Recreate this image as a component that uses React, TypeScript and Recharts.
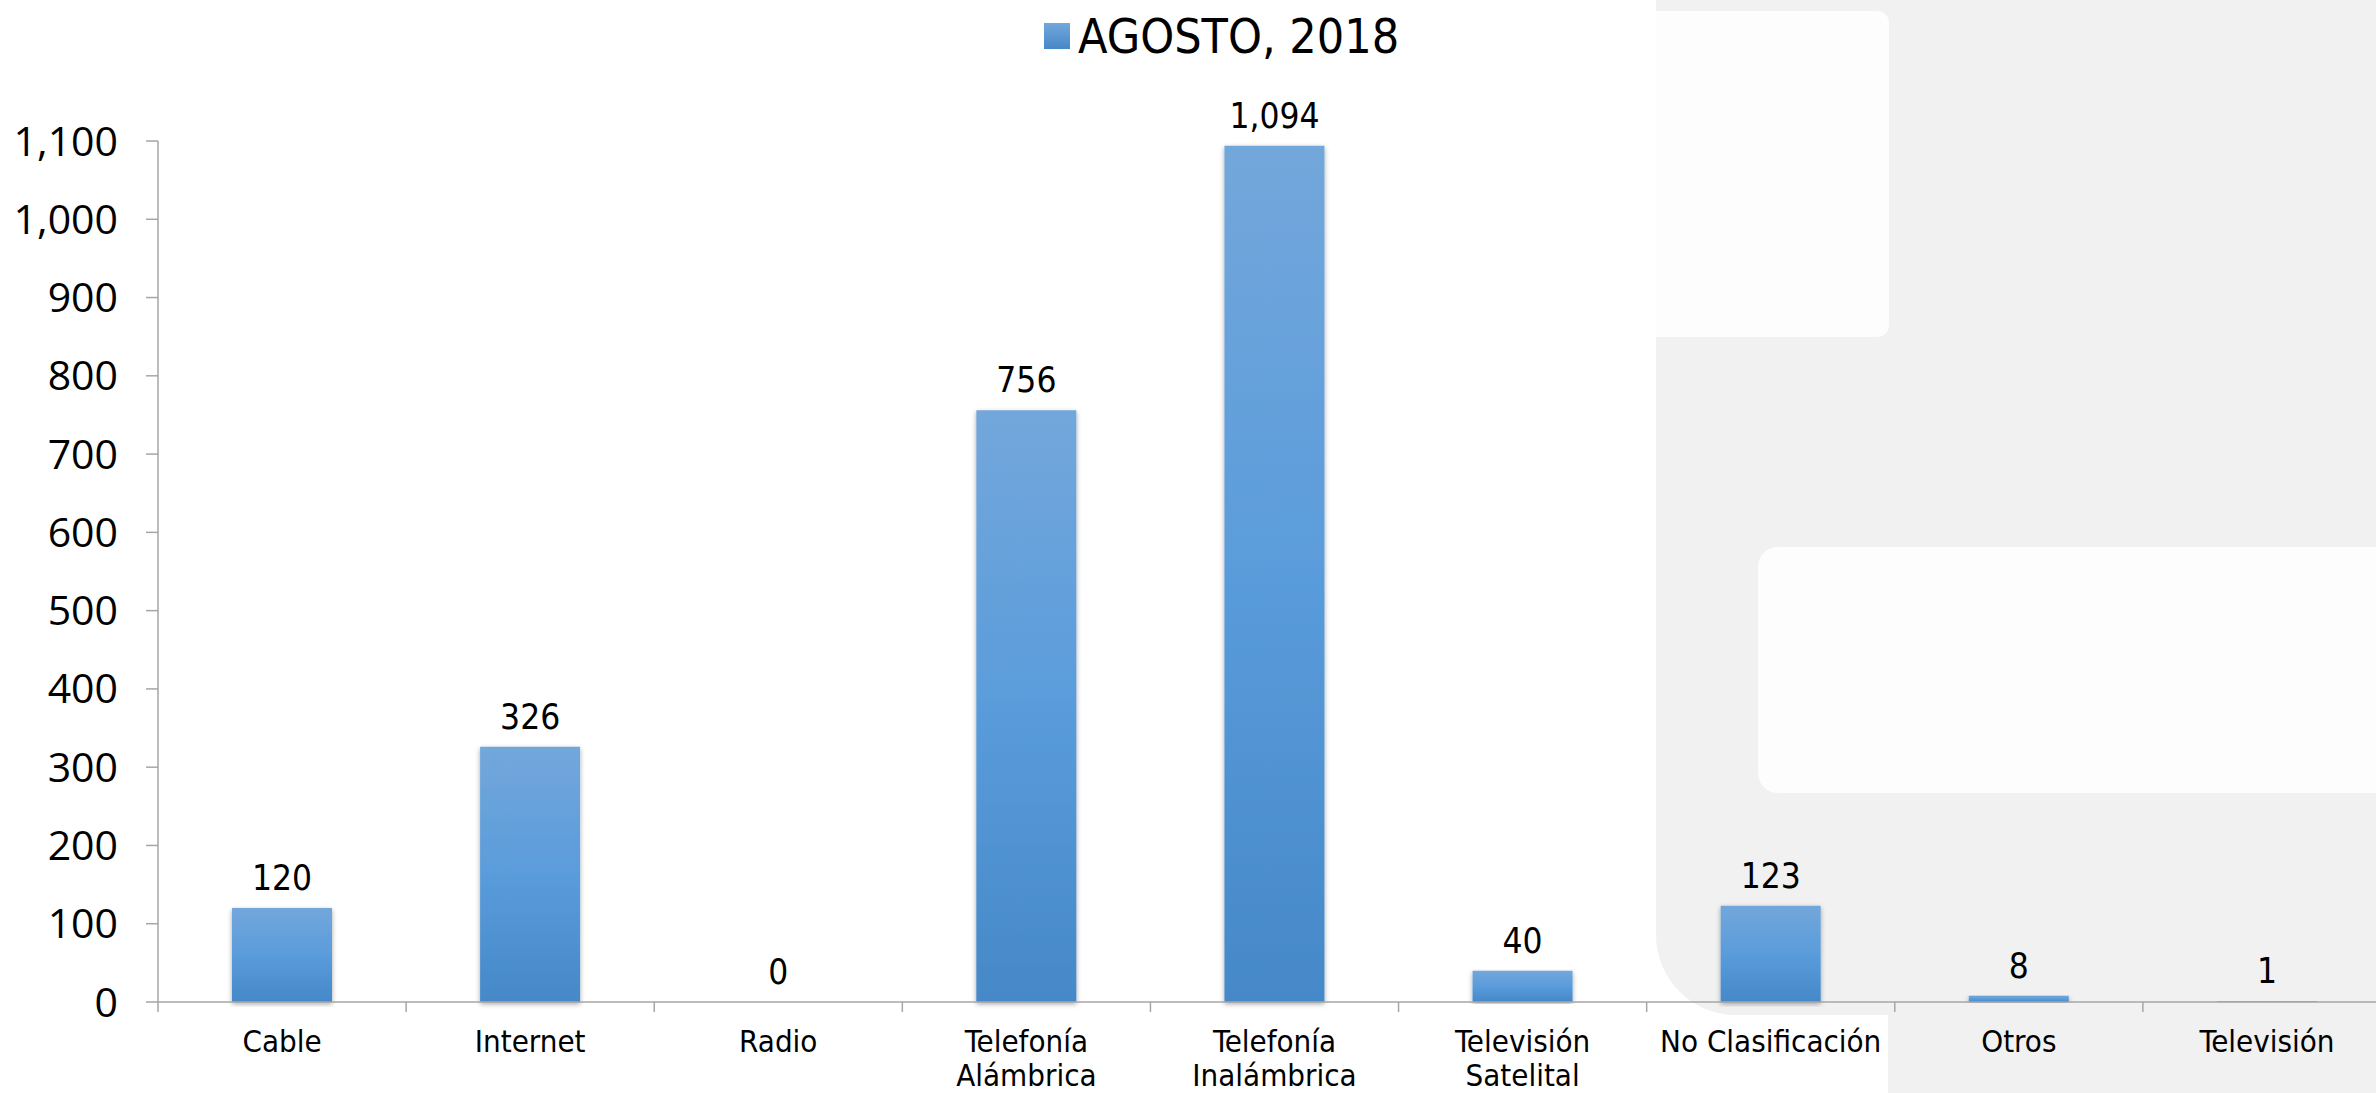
import { Bar, ComposedChart, LabelList, Line, XAxis, YAxis } from "recharts"

const categories = [
  "Cable",
  "Internet",
  "Radio",
  "Telefonía\nAlámbrica",
  "Telefonía\nInalámbrica",
  "Televisión\nSatelital",
  "No Clasificación",
  "Otros",
  "Televisión",
]
const values = [120, 326, 0, 756, 1094, 40, 123, 8, 1]
const yTicks = [0, 100, 200, 300, 400, 500, 600, 700, 800, 900, 1000, 1100]
const seriesName = "AGOSTO, 2018"

const data = categories.map((name, i) => ({ name, value: values[i] }))

const CHART_W = 2400
const CHART_H = 1093
const Y_AXIS_W = 158
const RIGHT = 9
const BAND = (CHART_W - Y_AXIS_W - RIGHT) / categories.length
const AXIS = "#a6a6a6"
const narrow = "'Liberation Sans Narrow', 'DejaVu Sans Condensed', sans-serif"

function CategoryTick(props: any) {
  const { x, y, payload } = props
  const lines = String(payload.value).split("\n")
  const bx = x - BAND / 2
  return (
    <g>
      <line x1={bx} y1={y - 10} x2={bx} y2={y} stroke={AXIS} strokeWidth={1.5} />
      <text x={x} y={y + 40} textAnchor="middle" fontFamily={narrow} fontSize={31} fill="#000">
        {lines.map((l, i) => (
          <tspan key={i} x={x} dy={i === 0 ? 0 : 34}>
            {l}
          </tspan>
        ))}
      </text>
    </g>
  )
}

function Backdrop() {
  const gray = "#f0f1f0"
  return (
    <>
      <div style={{ position: "absolute", left: 1656, top: 0, width: 720, height: 1015, background: gray, borderBottomLeftRadius: 80 }} />
      <div style={{ position: "absolute", left: 1888, top: 1000, width: 488, height: 93, background: gray }} />
      <div style={{ position: "absolute", left: 1656, top: 11, width: 233, height: 326, background: "#fdfdfd", borderTopRightRadius: 12, borderBottomRightRadius: 12 }} />
      <div style={{ position: "absolute", left: 1758, top: 547, width: 640, height: 246, background: "#fdfdfd", borderRadius: 20 }} />
    </>
  )
}

export default function App() {
  return (
    <div style={{ position: "absolute", left: 0, top: 0, width: 2376, height: 1093, overflow: "hidden", background: "#fff" }}>
      <Backdrop />
      <div style={{ position: "absolute", left: 1044, top: 8, display: "flex", alignItems: "center", fontFamily: narrow, fontSize: 48, color: "#000" }}>
        <span style={{ display: "inline-block", width: 26, height: 26, background: "linear-gradient(#73a7db, #4588c8)", marginRight: 8 }} />
        {seriesName}
      </div>
      <div style={{ position: "absolute", left: 0, top: 0 }}>
        <ComposedChart width={CHART_W} height={CHART_H} data={data} margin={{ top: 141, right: RIGHT, bottom: 0, left: 0 }}>
          <defs>
            <linearGradient id="barGrad" x1="0" y1="0" x2="0" y2="1">
              <stop offset="0%" stopColor="#73a7db" />
              <stop offset="50%" stopColor="#5a9cdb" />
              <stop offset="100%" stopColor="#4588c8" />
            </linearGradient>
            <filter id="barShadow" x="-20%" y="-5%" width="140%" height="110%">
              <feDropShadow dx="0" dy="2" stdDeviation="2.5" floodColor="#000" floodOpacity="0.35" />
            </filter>
          </defs>
          <XAxis
            dataKey="name"
            height={91}
            interval={0}
            tickLine={false}
            tickSize={10}
            tickMargin={0}
            axisLine={{ stroke: AXIS, strokeWidth: 1.5 }}
            tick={<CategoryTick />}
          />
          <YAxis
            width={Y_AXIS_W}
            domain={[0, 1100]}
            ticks={yTicks}
            interval={0}
            tickSize={12}
            tickMargin={28}
            tickLine={{ stroke: AXIS, strokeWidth: 1.5 }}
            axisLine={{ stroke: AXIS, strokeWidth: 1.5 }}
            tick={{ fontFamily: "'Open Sans', sans-serif", fontSize: 41, fill: "#000" }}
            tickFormatter={(v) => Number(v).toLocaleString("en-US")}
          />
          <Bar dataKey="value" barSize={100} fill="url(#barGrad)" filter="url(#barShadow)" isAnimationActive={false} />
          {/* invisible line carries the value labels so the zero bar still gets one */}
          <Line dataKey="value" stroke="none" dot={false} activeDot={false} legendType="none" isAnimationActive={false}>
            <LabelList
              dataKey="value"
              position="top"
              offset={18}
              fontFamily={narrow}
              fontSize={35}
              fill="#000"
              formatter={(v: any) => Number(v).toLocaleString("en-US")}
            />
          </Line>
        </ComposedChart>
      </div>
    </div>
  )
}
